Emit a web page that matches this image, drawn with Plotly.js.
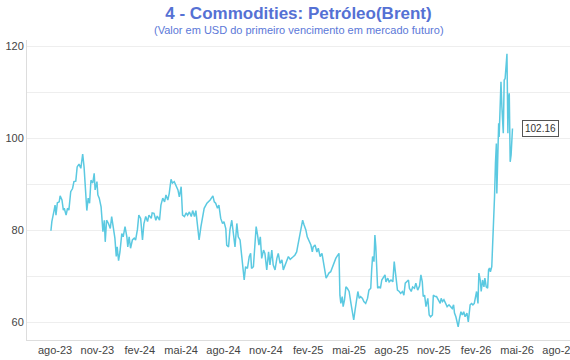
<!DOCTYPE html>
<html>
<head>
<meta charset="utf-8">
<script src="https://cdn.plot.ly/plotly-3.0.1.min.js"></script>
<style>
  html, body { margin: 0; padding: 0; background: #ffffff; overflow: hidden; }
  #chart { width: 600px; height: 360px; }
</style>
</head>
<body>
<div id="chart"></div>
<script>
const dates = [
  '2023-07-23','2023-07-25','2023-07-30','2023-08-01','2023-08-03','2023-08-06','2023-08-10','2023-08-12','2023-08-16','2023-08-19',
  '2023-08-21','2023-08-25','2023-08-28','2023-08-31','2023-09-04','2023-09-08','2023-09-11','2023-09-15','2023-09-18','2023-09-22',
  '2023-09-26','2023-09-28','2023-09-30','2023-10-03','2023-10-06','2023-10-09','2023-10-12','2023-10-15','2023-10-18','2023-10-22',
  '2023-10-25','2023-10-27','2023-10-31','2023-11-02','2023-11-05','2023-11-09','2023-11-13','2023-11-16','2023-11-18','2023-11-21',
  '2023-11-25','2023-11-29','2023-12-02','2023-12-06','2023-12-09','2023-12-12','2023-12-14','2023-12-17','2023-12-20','2023-12-24',
  '2023-12-27','2023-12-31','2024-01-04','2024-01-06','2024-01-09','2024-01-12','2024-01-16','2024-01-20','2024-01-23','2024-01-27',
  '2024-01-30','2024-02-03','2024-02-07','2024-02-10','2024-02-14','2024-02-18','2024-02-21','2024-02-26','2024-02-28','2024-03-03',
  '2024-03-07','2024-03-10','2024-03-15','2024-03-18','2024-03-22','2024-03-26','2024-03-29','2024-04-02','2024-04-05','2024-04-09',
  '2024-04-12','2024-04-16','2024-04-19','2024-04-24','2024-04-27','2024-05-01','2024-05-04','2024-05-08','2024-05-12','2024-05-15',
  '2024-05-19','2024-05-23','2024-05-26','2024-05-30','2024-06-02','2024-06-06','2024-06-09','2024-06-13','2024-06-16','2024-06-20',
  '2024-06-26','2024-07-03','2024-07-09','2024-07-12','2024-07-15','2024-07-19','2024-07-22','2024-07-26','2024-07-30','2024-08-02',
  '2024-08-06','2024-08-08','2024-08-12','2024-08-15','2024-08-19','2024-08-22','2024-08-26','2024-08-30','2024-09-02','2024-09-06',
  '2024-09-10','2024-09-12','2024-09-15','2024-09-18','2024-09-22','2024-09-26','2024-09-29','2024-10-01','2024-10-05','2024-10-09',
  '2024-10-11','2024-10-14','2024-10-17','2024-10-20','2024-10-23','2024-10-27','2024-10-30','2024-11-03','2024-11-07','2024-11-10',
  '2024-11-14','2024-11-17','2024-11-21','2024-11-25','2024-11-28','2024-12-02','2024-12-06','2024-12-09','2024-12-13','2024-12-16',
  '2024-12-20','2024-12-24','2024-12-27','2024-12-31','2025-01-03','2025-01-07','2025-01-09','2025-01-12','2025-01-14','2025-01-17',
  '2025-01-20','2025-01-23','2025-01-27','2025-01-30','2025-02-03','2025-02-07','2025-02-10','2025-02-12','2025-02-16','2025-02-20',
  '2025-02-23','2025-02-27','2025-03-03','2025-03-06','2025-03-10','2025-03-12','2025-03-16','2025-03-18','2025-03-22','2025-03-26',
  '2025-03-29','2025-04-02','2025-04-05','2025-04-09','2025-04-11','2025-04-13','2025-04-16','2025-04-18','2025-04-21','2025-04-24',
  '2025-04-27','2025-05-01','2025-05-05','2025-05-08','2025-05-11','2025-05-14','2025-05-18','2025-05-20','2025-05-23','2025-05-26',
  '2025-05-30','2025-06-02','2025-06-06','2025-06-10','2025-06-13','2025-06-17','2025-06-19','2025-06-21','2025-06-24','2025-06-26',
  '2025-06-28','2025-06-30','2025-07-02','2025-07-05','2025-07-08','2025-07-11','2025-07-14','2025-07-18','2025-07-20','2025-07-24',
  '2025-07-27','2025-07-31','2025-08-04','2025-08-07','2025-08-09','2025-08-11','2025-08-14','2025-08-18','2025-08-21','2025-08-25',
  '2025-08-28','2025-08-31','2025-09-03','2025-09-07','2025-09-09','2025-09-13','2025-09-16','2025-09-20','2025-09-23','2025-09-27',
  '2025-10-01','2025-10-04','2025-10-07','2025-10-09','2025-10-12','2025-10-15','2025-10-19','2025-10-22','2025-10-25','2025-10-29',
  '2025-10-31','2025-11-04','2025-11-07','2025-11-11','2025-11-15','2025-11-17','2025-11-20','2025-11-23','2025-11-27','2025-11-30',
  '2025-12-04','2025-12-08','2025-12-11','2025-12-14','2025-12-16','2025-12-19','2025-12-22','2025-12-24','2025-12-27','2025-12-30',
  '2026-01-02','2026-01-05','2026-01-08','2026-01-12','2026-01-15','2026-01-19','2026-01-22','2026-01-25','2026-01-28','2026-01-31',
  '2026-02-02','2026-02-05','2026-02-07','2026-02-10','2026-02-12','2026-02-15','2026-02-18','2026-02-20','2026-02-23','2026-02-26',
  '2026-02-28','2026-03-02','2026-03-04','2026-03-07','2026-03-09','2026-03-11','2026-03-13','2026-03-15','2026-03-17','2026-03-18',
  '2026-03-20','2026-03-22','2026-03-23','2026-03-26','2026-03-27','2026-03-29','2026-04-01','2026-04-03','2026-04-05','2026-04-08',
  '2026-04-09','2026-04-11','2026-04-12','2026-04-14','2026-04-16','2026-04-18','2026-04-21'
];

const brent = [
  79.9,81.9,84.4,85.5,83.3,86.0,86.2,87.5,86.6,84.4,
  84.8,83.3,84.8,84.4,88.4,89.1,90.6,90.7,93.8,94.4,
  93.5,94.9,96.6,93.8,89.5,84.3,87.0,85.9,90.9,90.3,
  92.4,88.8,90.6,87.7,87.0,85.1,79.7,82.2,77.5,82.2,
  81.5,80.4,83.0,80.8,78.3,74.3,76.4,73.4,75.3,79.3,
  78.6,80.8,78.6,76.4,78.6,76.1,77.9,78.3,77.9,80.2,
  83.3,82.6,77.9,81.4,83.0,81.9,83.3,82.6,83.8,83.7,
  82.2,83.1,82.2,85.5,87.0,86.2,87.7,86.6,88.0,91.1,
  90.3,90.6,89.8,88.8,87.3,89.5,83.3,83.0,83.8,83.3,
  84.0,83.0,84.3,83.0,84.3,80.0,77.9,80.8,82.2,84.8,
  85.9,86.6,87.5,86.2,85.9,84.8,85.5,82.6,81.5,81.9,
  80.4,76.8,76.4,80.1,82.2,79.3,76.4,81.5,78.6,77.9,
  73.6,71.4,69.2,72.1,71.7,74.3,75.0,71.7,72.1,77.9,
  80.8,79.0,76.8,78.6,73.9,75.7,75.0,71.4,75.3,72.5,
  75.7,72.5,71.4,73.9,75.0,72.8,73.6,71.4,72.5,73.2,
  74.3,73.7,73.9,74.3,74.6,75.3,76.4,77.9,79.3,80.8,
  82.2,81.2,80.1,78.6,77.5,76.8,75.3,76.4,76.8,75.3,
  76.1,74.3,75.0,73.2,71.4,69.6,70.3,70.7,71.0,72.1,
  73.2,73.9,74.4,75.0,65.9,64.1,65.6,63.4,64.9,67.7,
  67.4,66.7,64.1,61.9,60.5,62.7,64.9,66.7,65.2,65.6,
  65.2,64.5,64.1,65.2,67.0,67.4,71.4,74.3,73.2,79.0,
  76.4,72.1,67.4,67.7,67.4,69.2,69.6,70.3,68.8,69.6,
  68.8,69.2,68.8,73.2,71.4,69.2,67.0,66.7,66.3,66.7,
  65.9,68.5,68.8,69.2,67.4,66.7,67.7,67.4,68.5,67.0,
  67.9,70.3,68.8,65.6,65.9,63.4,65.2,61.6,61.2,61.6,
  65.9,65.6,65.6,64.9,64.1,65.2,64.5,64.9,64.1,63.4,
  63.8,63.4,63.0,63.8,62.0,61.2,60.1,59.0,60.9,62.3,
  61.6,62.3,61.2,62.0,60.1,63.8,64.1,63.8,64.1,66.3,
  66.7,64.1,70.7,69.2,66.7,69.2,67.7,69.6,67.7,67.4,
  71.4,71.8,71.0,72.1,76.4,81.5,87.3,94.6,98.9,88.0,
  97.5,103.3,100.3,106.9,112.3,106.9,101.1,112.7,113.0,117.0,
  118.4,101.1,109.0,109.8,94.9,96.4,102.16
];

const xTickVals = ['2023-08-01','2023-11-01','2024-02-01','2024-05-01','2024-08-01','2024-11-01',
                   '2025-02-01','2025-05-01','2025-08-01','2025-11-01','2026-02-01','2026-05-01','2026-08-01'];
const xTickText = ['ago-23','nov-23','fev-24','mai-24','ago-24','nov-24',
                   'fev-25','mai-25','ago-25','nov-25','fev-26','mai-26','ago-26'];

const titleText = '4 - Commodities: Petróleo(Brent)';
const subtitleText = '(Valor em USD do primeiro vencimento em mercado futuro)';
const lastLabel = '102.16';

const trace = {
  x: dates,
  y: brent,
  type: 'scatter',
  mode: 'lines',
  line: { color: '#5bc9e1', width: 1.5 },
  hoverinfo: 'x+y'
};

const layout = {
  width: 600,
  height: 360,
  margin: { l: 27, r: 30, t: 40, b: 20, pad: 0 },
  paper_bgcolor: '#ffffff',
  plot_bgcolor: '#ffffff',
  showlegend: false,
  font: { family: 'Liberation Sans, Arial, sans-serif', color: '#444', size: 11 },
  title: {
    text: '<b>' + titleText + '</b>',
    x: 0.5, xref: 'paper', xanchor: 'center',
    y: 1 - 13 / 360, yref: 'container', yanchor: 'middle',
    font: { family: 'Liberation Sans, Arial, sans-serif', size: 17, color: '#5571d4' }
  },
  xaxis: {
    type: 'date',
    range: ['2023-06-01', '2026-08-24'],
    tickvals: xTickVals,
    ticktext: xTickText,
    showgrid: false,
    zeroline: false,
    showline: true,
    linecolor: '#dddddd',
    linewidth: 1,
    ticks: '',
    tickfont: { size: 11, color: '#444' },
    automargin: false
  },
  yaxis: {
    range: [56.15, 121.4],
    tickvals: [60, 80, 100, 120],
    showgrid: true,
    gridcolor: '#eeeeee',
    gridwidth: 1,
    minor: { dtick: 10, tick0: 0, showgrid: true, gridcolor: '#eeeeee', gridwidth: 1 },
    zeroline: false,
    showline: true,
    linecolor: '#dddddd',
    linewidth: 1,
    ticks: '',
    tickfont: { size: 11, color: '#444' },
    automargin: false
  },
  annotations: [
    {
      text: subtitleText,
      xref: 'paper', yref: 'paper',
      x: 0.5, y: 1 + 10 / 300,
      xanchor: 'center', yanchor: 'middle',
      showarrow: false,
      font: { family: 'Liberation Sans, Arial, sans-serif', size: 11, color: '#5b78d8' }
    },
    {
      text: lastLabel,
      x: dates[dates.length - 1],
      y: brent[brent.length - 1],
      xref: 'x', yref: 'y',
      xanchor: 'left', yanchor: 'middle',
      xshift: 10,
      showarrow: false,
      bgcolor: '#ffffff',
      bordercolor: '#555555',
      borderwidth: 1,
      borderpad: 2,
      font: { family: 'Liberation Sans, Arial, sans-serif', size: 10, color: '#333' }
    }
  ]
};

Plotly.newPlot('chart', [trace], layout, { displayModeBar: false, staticPlot: true });
</script>
</body>
</html>
